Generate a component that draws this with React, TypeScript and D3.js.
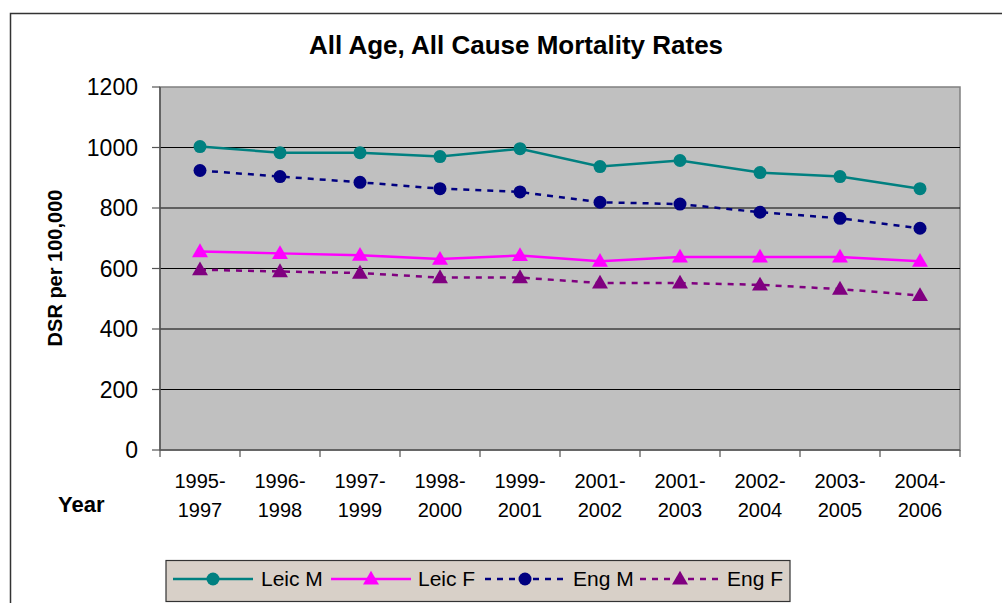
import React from "react";
import * as d3 from "d3";

const categories = ["1995-1997","1996-1998","1997-1999","1998-2000","1999-2001","2001-2002","2001-2003","2002-2004","2003-2005","2004-2006"];
const leicM = [1003, 983, 983, 970, 996, 937, 957, 917, 904, 864];
const leicF = [656, 650, 644, 631, 643, 624, 638, 638, 638, 624];
const engM = [924, 904, 885, 864, 853, 819, 813, 786, 766, 733];
const engF = [596, 590, 585, 570, 570, 552, 552, 546, 532, 511];
const yTicks = [0, 200, 400, 600, 800, 1000, 1200];

const seriesNames = ["Leic M", "Leic F", "Eng M", "Eng F"];

const FONT = "Arial, 'Liberation Sans', sans-serif";

type Series = { name: string; values: number[]; color: string; marker: "circle" | "triangle"; dash?: string };

const series: Series[] = [
  { name: seriesNames[0], values: leicM, color: "#008080", marker: "circle" },
  { name: seriesNames[1], values: leicF, color: "#FF00FF", marker: "triangle" },
  { name: seriesNames[2], values: engM, color: "#000080", marker: "circle", dash: "6,6" },
  { name: seriesNames[3], values: engF, color: "#800080", marker: "triangle", dash: "6,6" },
];

function Marker({ kind, x, y, color }: { kind: string; x: number; y: number; color: string }) {
  if (kind === "circle") return <circle cx={x} cy={y} r={6.5} fill={color} />;
  const s = d3.symbol().type(d3.symbolTriangle).size(110)();
  return <path d={s || ""} transform={`translate(${x},${y + 1})`} fill={color} />;
}

export default function App() {
  const left = 160, right = 960, top = 87, bottom = 450;
  const x = d3.scaleBand<string>().domain(categories).range([left, right]).padding(0);
  const y = d3.scaleLinear().domain([0, 1200]).range([bottom, top]);
  const cx = (c: string) => (x(c) as number) + x.bandwidth() / 2;
  const line = d3.line<number>().x((_, i) => cx(categories[i])).y((d) => y(d));

  const legendItems = [
    { lx: 173, tx: 261 },
    { lx: 331, tx: 418 },
    { lx: 485, tx: 573 },
    { lx: 640, tx: 727 },
  ];

  return (
    <svg width={1002} height={603} style={{ position: "absolute", left: 0, top: 0, background: "#fff" }} fontFamily={FONT}>
      <rect x={10.5} y={13.5} width={1000} height={600} fill="#fff" stroke="#333" strokeWidth={1.5} />
      <text x={516} y={54} textAnchor="middle" fontWeight="bold" fontSize={26}>All Age, All Cause Mortality Rates</text>

      <rect x={left} y={top} width={right - left} height={bottom - top} fill="#C0C0C0" stroke="#808080" strokeWidth={1.5} />
      {yTicks.filter((t) => t > 0 && t < 1200).map((t) => (
        <line key={t} x1={left} x2={right} y1={y(t)} y2={y(t)} stroke="#000" strokeWidth={1} />
      ))}
      <line x1={left} x2={left} y1={top} y2={bottom} stroke="#555" strokeWidth={1.5} />
      <line x1={left} x2={right} y1={bottom} y2={bottom} stroke="#555" strokeWidth={1.5} />
      {yTicks.map((t) => (
        <g key={t}>
          <line x1={152} x2={left} y1={y(t)} y2={y(t)} stroke="#555" strokeWidth={1.2} />
          <text x={138} y={y(t)} dy="0.35em" textAnchor="end" fontSize={23}>{t}</text>
        </g>
      ))}
      {d3.range(categories.length + 1).map((i) => {
        const xx = left + i * x.bandwidth();
        return <line key={i} x1={xx} x2={xx} y1={bottom} y2={bottom + 7} stroke="#555" strokeWidth={1.2} />;
      })}
      {categories.map((c) => {
        const [a, b] = c.split("-");
        return (
          <text key={c} x={cx(c)} textAnchor="middle" fontSize={20}>
            <tspan x={cx(c)} y={488}>{a + "-"}</tspan>
            <tspan x={cx(c)} y={517}>{b}</tspan>
          </text>
        );
      })}
      <text x={58} y={512} fontWeight="bold" fontSize={22}>Year</text>
      <text transform="translate(62,268) rotate(-90)" textAnchor="middle" fontWeight="bold" fontSize={20}>DSR per 100,000</text>

      {series.map((s) => (
        <g key={s.name}>
          <path d={line(s.values) || ""} fill="none" stroke={s.color} strokeWidth={2.5} strokeDasharray={s.dash} />
          {s.values.map((v, i) => (
            <Marker key={i} kind={s.marker} x={cx(categories[i])} y={y(v)} color={s.color} />
          ))}
        </g>
      ))}

      <rect x={166} y={560.5} width={624} height={41} fill="#D8D0C8" stroke="#333" strokeWidth={1.2} />
      {series.map((s, i) => {
        const it = legendItems[i];
        const ly = 579;
        return (
          <g key={s.name}>
            <line x1={it.lx} x2={it.lx + 80} y1={ly} y2={ly} stroke={s.color} strokeWidth={2.5} strokeDasharray={s.dash} />
            <Marker kind={s.marker} x={it.lx + 40} y={ly} color={s.color} />
            <text x={it.tx} y={ly} dy="0.35em" fontSize={21}>{s.name}</text>
          </g>
        );
      })}
    </svg>
  );
}
